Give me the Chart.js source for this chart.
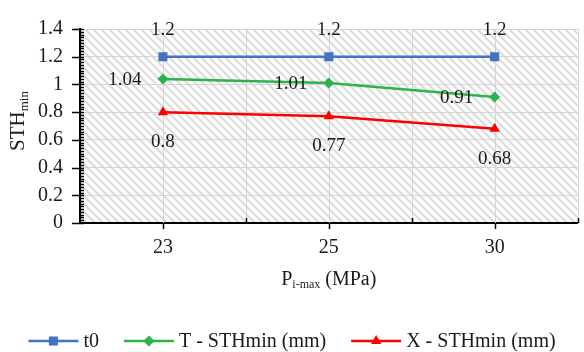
<!DOCTYPE html>
<html>
<head>
<meta charset="utf-8">
<script src="https://cdn.jsdelivr.net/npm/chart.js@4.4.1/dist/chart.umd.min.js"></script>
<style>
  html, body { margin: 0; padding: 0; background: #fff; }
</style>
</head>
<body>
<canvas id="sthChart" width="584" height="352"></canvas>
<script>
// Data
const pressures = ['23', '25', '30'];
const t0Values = [1.2, 1.2, 1.2];
const tValues = [1.04, 1.01, 0.91];
const xValues = [0.8, 0.77, 0.68];
const seriesNames = ['t0', 'T - STHmin (mm)', 'X - STHmin (mm)'];

const FONT = '"Liberation Serif", "Times New Roman", serif';
const TEXT = '#1a1a1a';
const colors = ['#4472C4', '#2DB34A', '#FF0000'];
const pointStyles = ['rect', 'rectRot', 'triangle'];
const pointRadii = [6.4, 5.5, 6];
// where each series puts its value labels, relative to the point
const labelOffsets = [{ dx: 0, dy: -27 }, { dx: -38, dy: 1 }, { dx: 0, dy: 30 }];

// hatched plot background
function makeHatch() {
  const c = document.createElement('canvas');
  c.width = 8; c.height = 8;
  const g = c.getContext('2d');
  g.strokeStyle = '#dcdcdc';
  g.lineWidth = 2.2;
  g.beginPath();
  g.moveTo(-2, -2); g.lineTo(10, 10);
  g.moveTo(-2, 6); g.lineTo(2, 10);
  g.moveTo(6, -2); g.lineTo(10, 2);
  g.stroke();
  return g.createPattern(c, 'repeat');
}

function drawMarker(ctx, style, x, y, r) {
  ctx.beginPath();
  if (style === 'rect') {
    const s = r * Math.SQRT1_2;
    ctx.rect(x - s, y - s, 2 * s, 2 * s);
  } else if (style === 'rectRot') {
    ctx.moveTo(x, y - r); ctx.lineTo(x + r, y); ctx.lineTo(x, y + r); ctx.lineTo(x - r, y);
    ctx.closePath();
  } else {
    ctx.moveTo(x, y - r);
    ctx.lineTo(x + r * 0.866, y + r * 0.5);
    ctx.lineTo(x - r * 0.866, y + r * 0.5);
    ctx.closePath();
  }
  ctx.fill();
}

// text with a subscript part, drawn from left x
function subText(ctx, parts, x, y) {
  let cx = x;
  parts.forEach(p => {
    ctx.font = p.size + 'px ' + FONT;
    ctx.fillText(p.t, cx, y + (p.shift || 0));
    cx += ctx.measureText(p.t).width;
  });
}
function subWidth(ctx, parts) {
  let w = 0;
  parts.forEach(p => { ctx.font = p.size + 'px ' + FONT; w += ctx.measureText(p.t).width; });
  return w;
}

const decorPlugin = {
  id: 'decor',
  beforeDraw(chart) {
    const { ctx, chartArea: a } = chart;
    ctx.save();
    ctx.fillStyle = makeHatch();
    ctx.fillRect(a.left, a.top, a.right - a.left, a.bottom - a.top);
    ctx.restore();
  },
  beforeDatasetsDraw(chart) {
    const { ctx, chartArea: a } = chart;
    const n = pressures.length;
    const step = (a.right - a.left) / (2 * n);
    ctx.save();
    ctx.strokeStyle = '#d4d4d4';
    ctx.lineWidth = 1;
    for (let i = 1; i <= 2 * n; i++) {
      const x = Math.round(a.left + i * step) + 0.5;
      ctx.beginPath(); ctx.moveTo(x, a.top); ctx.lineTo(x, a.bottom); ctx.stroke();
    }
    ctx.restore();
  },
  afterDraw(chart) {
    const { ctx, chartArea: a, scales } = chart;
    ctx.save();

    // y axis ticks: major cross the axis, minor on the inside
    ctx.strokeStyle = '#000';
    ctx.lineWidth = 1.5;
    const yMax = scales.y.max;
    for (let k = 0; k <= Math.round(yMax / 0.02); k++) {
      const v = k * 0.02;
      const y = Math.round(scales.y.getPixelForValue(v)) + 0.5;
      const major = k % 10 === 0;
      ctx.beginPath();
      ctx.moveTo(major ? a.left - 8 : a.left, y);
      ctx.lineTo(a.left + 4, y);
      ctx.stroke();
    }
    // x axis ticks: down at categories, up at boundaries
    const n = pressures.length;
    const step = (a.right - a.left) / (2 * n);
    for (let i = 1; i <= 2 * n; i++) {
      const x = Math.round(a.left + i * step) + 0.5;
      ctx.beginPath();
      if (i % 2 === 1) { ctx.moveTo(x, a.bottom); ctx.lineTo(x, a.bottom + 6); }
      else { ctx.moveTo(x, a.bottom); ctx.lineTo(x, a.bottom - 5); }
      ctx.stroke();
    }

    // value labels
    ctx.fillStyle = TEXT;
    ctx.font = '19px ' + FONT;
    ctx.textAlign = 'center';
    ctx.textBaseline = 'middle';
    chart.data.datasets.forEach((ds, di) => {
      const meta = chart.getDatasetMeta(di);
      meta.data.forEach((pt, i) => {
        const o = labelOffsets[di];
        ctx.fillText(String(ds.data[i]), pt.x + o.dx, pt.y + o.dy);
      });
    });

    // axis titles
    ctx.textAlign = 'left';
    ctx.textBaseline = 'alphabetic';
    const xTitle = [{ t: 'P', size: 20 }, { t: 'i-max', size: 12, shift: 3 }, { t: ' (MPa)', size: 20 }];
    const xw = subWidth(ctx, xTitle);
    subText(ctx, xTitle, (a.left + a.right) / 2 - xw / 2, 285);

    const yTitle = [{ t: 'STH', size: 21 }, { t: 'min', size: 13, shift: 4 }];
    const yw = subWidth(ctx, yTitle);
    ctx.save();
    ctx.translate(24, 121);
    ctx.rotate(-Math.PI / 2);
    subText(ctx, yTitle, -yw / 2, 0);
    ctx.restore();

    // legend
    ctx.font = '20px ' + FONT;
    ctx.textBaseline = 'middle';
    const lineLen = 50, gapText = 5, gapItem = 25;
    const widths = seriesNames.map(s => ctx.measureText(s).width);
    const total = widths.reduce((s, w) => s + lineLen + gapText + w, 0) + gapItem * (seriesNames.length - 1);
    let lx = chart.width / 2 - total / 2;
    const ly = 341;
    seriesNames.forEach((name, i) => {
      ctx.strokeStyle = colors[i];
      ctx.fillStyle = colors[i];
      ctx.lineWidth = 2.5;
      ctx.beginPath(); ctx.moveTo(lx, ly); ctx.lineTo(lx + lineLen, ly); ctx.stroke();
      drawMarker(ctx, pointStyles[i], lx + lineLen / 2, ly, pointRadii[i]);
      ctx.fillStyle = TEXT;
      ctx.fillText(name, lx + lineLen + gapText, ly + 1);
      lx += lineLen + gapText + widths[i] + gapItem;
    });

    ctx.restore();
  }
};

const ctx = document.getElementById('sthChart').getContext('2d');
const allSeries = [t0Values, tValues, xValues];

new Chart(ctx, {
  type: 'line',
  data: {
    labels: pressures,
    datasets: allSeries.map((vals, i) => ({
      label: seriesNames[i],
      data: vals,
      borderColor: colors[i],
      backgroundColor: colors[i],
      borderWidth: 2.5,
      pointStyle: pointStyles[i],
      pointRadius: pointRadii[i],
      pointBorderWidth: 0,
      tension: 0
    }))
  },
  options: {
    responsive: false,
    animation: false,
    layout: { padding: { top: 19, right: 2, left: 0, bottom: 0 } },
    plugins: {
      legend: { display: false },
      tooltip: { enabled: false }
    },
    scales: {
      x: {
        offset: true,
        grid: { display: false, drawTicks: false },
        border: { color: '#000', width: 2 },
        ticks: { color: TEXT, font: { family: FONT, size: 20 }, padding: 13 },
        afterFit(scale) { scale.height = 129; }
      },
      y: {
        min: 0,
        max: 1.4,
        grid: { color: '#d4d4d4', drawTicks: false },
        border: { color: '#000', width: 2 },
        ticks: {
          stepSize: 0.2,
          color: TEXT,
          font: { family: FONT, size: 20 },
          padding: 17,
          callback: v => String(+v.toFixed(1))
        },
        afterFit(scale) { scale.width = 80; }
      }
    }
  },
  plugins: [decorPlugin]
});
</script>
</body>
</html>
